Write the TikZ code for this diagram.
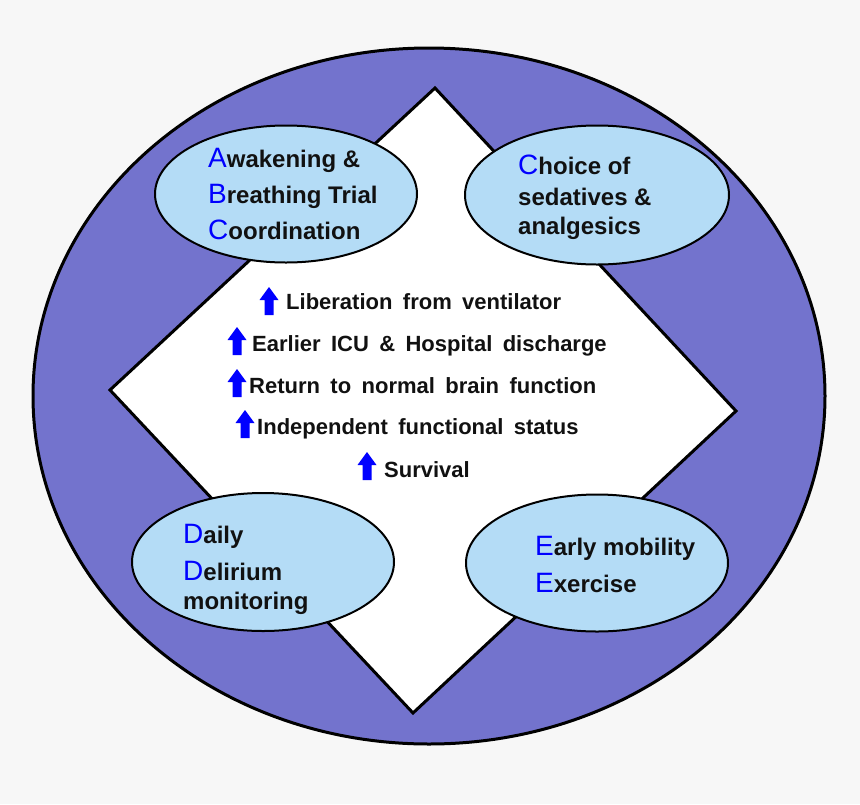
\documentclass[tikz,border=0pt]{standalone}
\usepackage{fontspec}
\setmainfont{Liberation Sans}
\newfontfamily\midfont[WordSpace=1.7]{Liberation Sans}
\usetikzlibrary{shapes.geometric}
\definecolor{bgc}{HTML}{F7F7F7}
\definecolor{ringc}{HTML}{7373CD}
\definecolor{bubc}{HTML}{B4DCF6}
\definecolor{ink}{HTML}{111111}
\definecolor{letc}{HTML}{0000FF}
\newcommand\bl[1]{{\fontsize{28}{28}\selectfont\mdseries\color{letc}#1}}
\tikzset{
  ring/.style={ellipse, draw=black, line width=3pt, fill=ringc, minimum width=792, minimum height=696, inner sep=0pt},
  diam/.style={draw=black, line width=3pt, fill=white, line join=miter},
  bubble/.style={ellipse, draw=black, line width=2pt, fill=bubc, minimum width=262, minimum height=137, inner sep=0pt},
  btxt/.style={anchor=base west, inner sep=0pt, text=ink, font=\fontsize{24}{24}\selectfont\bfseries},
  mtxt/.style={anchor=base west, inner sep=0pt, text=ink, font=\midfont\fontsize{22}{22}\selectfont\bfseries},
  uparr/.pic={\fill[letc] (-4.5,0) -- (4.5,0) -- (4.5,-15) -- (9.5,-15) -- (0,-28) -- (-9.5,-15) -- (-4.5,-15) -- cycle;}
}
\begin{document}
\begin{tikzpicture}[x=1pt,y=-1pt]
\fill[bgc] (0,0) rectangle (860,804);
\useasboundingbox (0,0) rectangle (860,804);
\node[ring] (ring) at (429,396) {};
\coordinate (dt) at (435,88);
\coordinate (dr) at (736,411);
\coordinate (db) at (413,713);
\coordinate (dl) at (110,390);
\draw[diam] (dt) -- (dr) -- (db) -- (dl) -- cycle;
\node[bubble] (abc) at (286,194) {};
\node[bubble, minimum width=264, minimum height=139] (cho) at (597,195) {};
\node[bubble, minimum height=138] (dd) at (263,562) {};
\node[bubble] (ee) at (597,563) {};
% ABC
\node[btxt] (a1) at (208,167) {\bl{A}wakening \&};
\node[btxt] (a2) at (208,203) {\bl{B}reathing Trial};
\node[btxt] (a3) at (208,239) {\bl{C}oordination};
% C
\node[btxt] (c1) at (518,174) {\bl{C}hoice of};
\node[btxt] (c2) at (518,205) {sedatives \&};
\node[btxt] (c3) at (518,234) {analgesics};
% D
\node[btxt] (d1) at (183,543) {\bl{D}aily};
\node[btxt] (d2) at (183,580) {\bl{D}elirium};
\node[btxt] (d3) at (183,609) {monitoring};
% E
\node[btxt] (e1) at (535,555) {\bl{E}arly mobility};
\node[btxt] (e2) at (535,592) {\bl{E}xercise};
% centre
\pic at (269,315) {uparr};
\node[mtxt] (m1) at (286,309) {Liberation from ventilator};
\pic at (237,355) {uparr};
\node[mtxt] (m2) at (252,351) {Earlier ICU \& Hospital discharge};
\pic at (237,397) {uparr};
\node[mtxt] (m3) at (249,393) {Return to normal brain function};
\pic at (245,438) {uparr};
\node[mtxt] (m4) at (257,434) {Independent functional status};
\pic at (367,480) {uparr};
\node[mtxt] (m5) at (384,477) {Survival};
\end{tikzpicture}
\end{document}
